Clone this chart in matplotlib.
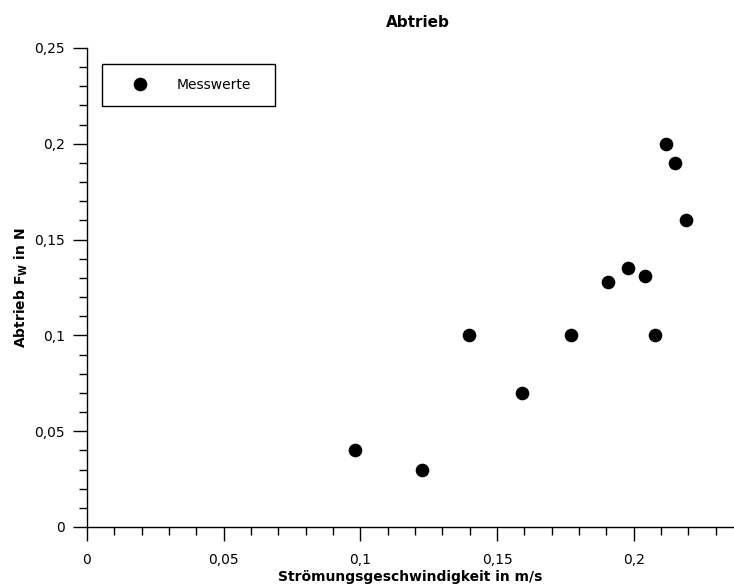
import numpy as np
from matplotlib import pyplot as plt
from matplotlib.ticker import MultipleLocator, FuncFormatter

# Messwerte
geschwindigkeit = [0.098, 0.1225, 0.1397, 0.1592, 0.177, 0.1906, 0.1979, 0.2041, 0.2078, 0.2118, 0.215, 0.2191]
abtrieb = [0.04, 0.03, 0.10, 0.07, 0.10, 0.128, 0.135, 0.131, 0.10, 0.20, 0.19, 0.16]

plt.rcParams['font.family'] = 'DejaVu Sans'
plt.rcParams['mathtext.fontset'] = 'dejavusans'

def komma(v, pos):
    return ('%g' % round(v, 4)).replace('.', ',')

fig = plt.figure(figsize=(7.34, 5.86), dpi=100)
ax = fig.add_axes([0.1185, 0.1007, 0.88, 0.8174])

ax.plot(geschwindigkeit, abtrieb, 'o', color='black', markersize=8.8, label='Messwerte', clip_on=False)

ax.set_xlim(0, 0.2363)
ax.set_ylim(0, 0.25)
ax.xaxis.set_major_locator(MultipleLocator(0.05))
ax.xaxis.set_minor_locator(MultipleLocator(0.01))
ax.yaxis.set_major_locator(MultipleLocator(0.05))
ax.yaxis.set_minor_locator(MultipleLocator(0.01))
ax.xaxis.set_major_formatter(FuncFormatter(komma))
ax.yaxis.set_major_formatter(FuncFormatter(komma))

for s in ['top', 'right']:
    ax.spines[s].set_visible(False)
for s in ['left', 'bottom']:
    ax.spines[s].set_linewidth(1.0)

ax.tick_params(which='major', direction='out', length=10, width=1.0, labelsize=10, pad=6)
ax.tick_params(axis='x', which='major', pad=9)
ax.tick_params(which='minor', direction='out', length=6, width=1.0)

ax.set_title('Abtrieb', fontsize=11, fontweight='bold', pad=15, x=0.513)
ax.set_xlabel('Strömungsgeschwindigkeit in m/s', fontsize=10, fontweight='bold', labelpad=2)
ax.set_ylabel(r'Abtrieb $\mathbf{F_W}$ in N', fontsize=10, fontweight='bold', labelpad=3)

# Legendenkasten wie im Original etwas breiter
leg = ax.legend(loc='upper left', bbox_to_anchor=(0.023, 0.5, 0.268, 0.467), mode='expand',
                borderaxespad=0, fancybox=False, edgecolor='black', framealpha=1, fontsize=10,
                borderpad=1.0, handlelength=3.5, handletextpad=0.9)
leg.get_frame().set_linewidth(1.0)

fig.savefig('out.png', dpi=100)
